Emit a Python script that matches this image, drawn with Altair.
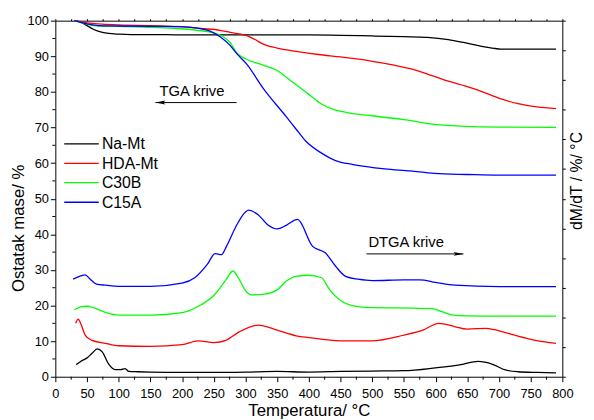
import altair as alt
import pandas as pd

FONT = "Liberation Sans"

series = ["Na-Mt", "HDA-Mt", "C30B", "C15A"]
colors = ["#000000", "#ff0000", "#00ff00", "#0000ff"]

# ---- TGA curves (left axis, %)
na_tga_t = [30, 40, 50, 60, 70, 84, 100, 120, 150, 200, 250, 300, 350, 400, 450, 500, 550, 587, 620, 644, 660, 675, 690, 703, 720, 750, 790]
na_tga_v = [100, 99.6, 98.6, 97.6, 96.9, 96.4, 96.2, 96.1, 96.1, 96.0, 96.0, 96.0, 96.0, 96.0, 95.9, 95.7, 95.5, 95.3, 94.7, 93.9, 93.3, 92.7, 92.3, 92.0, 92.0, 92.0, 92.0]

hda_tga_t = [30, 50, 100, 150, 200, 230, 260, 276, 290, 302, 315, 328, 350, 380, 415, 450, 500, 535, 560, 587, 610, 640, 670, 702, 730, 760, 790]
hda_tga_v = [100, 99.4, 98.8, 98.6, 98.3, 97.8, 97.3, 96.7, 96.3, 95.8, 94.7, 93.4, 92.3, 91.4, 90.5, 89.8, 88.6, 87.5, 86.5, 85.0, 83.6, 82.0, 80.3, 78.1, 76.7, 75.8, 75.3]

c30_tga_t = [30, 50, 68, 100, 150, 193, 224, 250, 265, 276, 286, 300, 328, 350, 364, 380, 400, 420, 440, 460, 480, 500, 550, 598, 650, 700, 790]
c30_tga_v = [100, 99.0, 98.5, 98.4, 98.1, 97.8, 97.3, 96.6, 95.5, 93.8, 91.0, 89.3, 87.5, 86.0, 84.2, 82.0, 79.3, 76.6, 75.0, 74.2, 73.7, 73.3, 72.2, 70.9, 70.3, 70.1, 70.0]

c15_tga_t = [30, 50, 68, 100, 150, 193, 224, 245, 260, 276, 286, 302, 328, 364, 380, 395, 420, 442, 470, 520, 560, 598, 650, 700, 790]
c15_tga_v = [100, 99.1, 98.6, 98.5, 98.4, 98.3, 97.9, 97.0, 95.5, 93.0, 90.8, 87.8, 81.0, 73.1, 69.5, 66.2, 62.8, 60.7, 59.6, 58.4, 57.8, 57.1, 56.8, 56.6, 56.6]

# ---- DTGA curves (right axis, plotted on the same 0-100 frame)
na_dtg_t = [33, 40, 50, 58, 66, 74, 84, 94, 103, 110, 116, 130, 150, 200, 250, 300, 350, 400, 450, 500, 550, 600, 640, 667, 690, 710, 730, 760, 790]
na_dtg_v = [3.4, 4.3, 5.3, 6.6, 7.8, 7.0, 3.6, 2.0, 2.0, 2.3, 1.5, 1.4, 1.3, 1.2, 1.2, 1.3, 1.5, 1.3, 1.5, 1.6, 1.7, 2.5, 3.4, 4.3, 3.5, 1.9, 1.4, 1.2, 1.1]

hda_dtg_t = [32, 36, 41, 47, 57, 79, 100, 150, 200, 225, 250, 270, 290, 320, 350, 380, 400, 450, 500, 550, 580, 605, 630, 650, 680, 700, 730, 750, 790]
hda_dtg_v = [15.0, 16.2, 14.5, 11.7, 10.3, 9.4, 8.7, 8.5, 9.0, 10.1, 9.6, 10.3, 12.6, 14.5, 13.1, 11.5, 11.0, 10.1, 10.1, 11.7, 13.1, 15.0, 14.1, 13.4, 13.6, 12.9, 11.4, 10.5, 9.4]

c30_dtg_t = [30, 40, 50, 60, 80, 100, 150, 200, 230, 250, 270, 280, 290, 300, 310, 330, 350, 364, 380, 400, 420, 432, 450, 468, 500, 560, 595, 610, 625, 650, 700, 790]
c30_dtg_v = [18.8, 19.6, 19.8, 19.4, 18.0, 17.3, 17.3, 18.0, 20.2, 22.8, 27.4, 29.7, 27.4, 24.2, 23.0, 23.2, 24.4, 26.8, 28.2, 28.5, 27.8, 24.7, 21.4, 20.0, 19.4, 19.3, 19.1, 18.3, 17.4, 17.1, 17.0, 17.0]

c15_dtg_t = [28, 40, 47, 55, 65, 80, 100, 150, 200, 220, 240, 252, 262, 270, 285, 300, 305, 320, 335, 350, 365, 382, 406, 426, 442, 458, 478, 500, 550, 575, 600, 630, 700, 790]
c15_dtg_v = [27.4, 28.3, 28.6, 27.4, 26.0, 25.7, 25.4, 25.4, 26.3, 27.8, 31.6, 34.6, 34.3, 36.6, 42.2, 46.3, 46.8, 45.5, 42.7, 41.5, 42.6, 44.2, 36.6, 34.8, 31.1, 28.2, 27.4, 27.0, 27.2, 27.2, 26.5, 25.7, 25.3, 25.3]


def frame(name, ts, vs):
    return pd.DataFrame({"T": ts, "v": vs, "series": name})


tga_df = pd.concat([
    frame("Na-Mt", na_tga_t, na_tga_v),
    frame("HDA-Mt", hda_tga_t, hda_tga_v),
    frame("C30B", c30_tga_t, c30_tga_v),
    frame("C15A", c15_tga_t, c15_tga_v),
])
dtg_df = pd.concat([
    frame("Na-Mt", na_dtg_t, na_dtg_v),
    frame("HDA-Mt", hda_dtg_t, hda_dtg_v),
    frame("C30B", c30_dtg_t, c30_dtg_v),
    frame("C15A", c15_dtg_t, c15_dtg_v),
])


def xs():
    return alt.Scale(domain=[0, 800], nice=False, zero=False)


def ys():
    return alt.Scale(domain=[0, 100], nice=False, zero=False)


color = alt.Color("series:N", scale=alt.Scale(domain=series, range=colors), legend=None)

tga = alt.Chart(tga_df).mark_line(strokeWidth=1.3, interpolate="monotone").encode(
    x=alt.X("T:Q", scale=xs(), axis=alt.Axis(
        title="Temperatura/ °C", values=list(range(0, 801, 50)), tickSize=5,
        labelPadding=6, titlePadding=2, labelFlush=False)),
    y=alt.Y("v:Q", scale=ys(), axis=alt.Axis(
        title="Ostatak mase/ %", values=list(range(0, 101, 10)), tickSize=5,
        labelPadding=2, titlePadding=0, titleY=210)),
    color=color,
)

dtg = alt.Chart(dtg_df).mark_line(strokeWidth=1.3, interpolate="monotone").encode(
    x=alt.X("T:Q", scale=xs(), axis=alt.Axis(
        orient="top", labels=False, title="", values=list(range(0, 801, 25)), tickSize=2)),
    y=alt.Y("v:Q", scale=ys(), axis=alt.Axis(
        orient="right", labels=False, title="dM/dT / %/ °C", titleAngle=270,
        values=[k * 100 / 12 for k in range(13)], tickSize=3, titlePadding=19,
        titleY=162, titleFontSize=16)),
    color=color,
)

# minor ticks
yminor = alt.Chart(pd.DataFrame({"v": list(range(5, 100, 10))})).mark_rule(color="black").encode(
    y=alt.Y("v:Q", scale=ys(), axis=None), x=alt.value(-3), x2=alt.value(0))
xminor = alt.Chart(pd.DataFrame({"T": list(range(25, 800, 50))})).mark_rule(color="black").encode(
    x=alt.X("T:Q", scale=xs(), axis=None), y=alt.value(361), y2=alt.value(364))

# legend (placed in data coordinates)
leg_df = pd.DataFrame({"series": series, "y": [65.4, 59.9, 54.5, 49.0]})
leg_rules = alt.Chart(leg_df).mark_rule(strokeWidth=1.3).encode(
    x=alt.X("a:Q", scale=xs(), axis=None), x2="b:Q",
    y=alt.Y("y:Q", scale=ys(), axis=None), color=color,
).transform_calculate(a="14", b="68.5")
leg_text = alt.Chart(leg_df).mark_text(align="left", baseline="middle", font=FONT, fontSize=16, dy=0.5).encode(
    x=alt.X("a:Q", scale=xs(), axis=None),
    y=alt.Y("y:Q", scale=ys(), axis=None), text="series:N",
).transform_calculate(a="73.5")

# annotations
ann_text = pd.DataFrame({"T": [164.5, 494], "v": [78.9, 36.4], "label": ["TGA krive", "DTGA krive"]})
ann_line = pd.DataFrame({"T": [158, 491], "T2": [286, 644], "v": [77.0, 34.5]})
ann_texts = alt.Chart(ann_text).mark_text(align="left", baseline="alphabetic", font=FONT, fontSize=15).encode(
    x=alt.X("T:Q", scale=xs(), axis=None), y=alt.Y("v:Q", scale=ys(), axis=None), text="label:N")
ann_lines = alt.Chart(ann_line).mark_rule(color="black", strokeWidth=1).encode(
    x=alt.X("T:Q", scale=xs(), axis=None), x2="T2:Q", y=alt.Y("v:Q", scale=ys(), axis=None))
head_left = alt.Chart(pd.DataFrame({"T": [158], "v": [77.0]})).mark_point(
    shape="M 0 0 L 2 -0.4 L 1.6 0 L 2 0.4 Z", filled=True, color="black", size=100, opacity=1).encode(
    x=alt.X("T:Q", scale=xs(), axis=None), y=alt.Y("v:Q", scale=ys(), axis=None))
head_right = alt.Chart(pd.DataFrame({"T": [644], "v": [34.5]})).mark_point(
    shape="M 0 0 L -2 -0.4 L -1.6 0 L -2 0.4 Z", filled=True, color="black", size=100, opacity=1).encode(
    x=alt.X("T:Q", scale=xs(), axis=None), y=alt.Y("v:Q", scale=ys(), axis=None))

chart = alt.layer(
    tga, dtg, yminor, xminor, leg_rules, leg_text, ann_lines, head_left, head_right, ann_texts
).resolve_scale(
    x="independent", y="independent"
).properties(
    width=514, height=361,
    autosize=alt.AutoSizeParams(type="none"),
    padding={"left": 48, "top": 10, "right": 24, "bottom": 40},
).configure_view(stroke=None).configure_axis(
    labelFont=FONT, titleFont=FONT, labelFontSize=13, titleFontSize=17,
    titleFontWeight="normal", labelColor="black", titleColor="black",
    domainColor="black", tickColor="black", grid=False,
)

chart.save("out.html", embed_options={"renderer": "svg", "actions": False})
